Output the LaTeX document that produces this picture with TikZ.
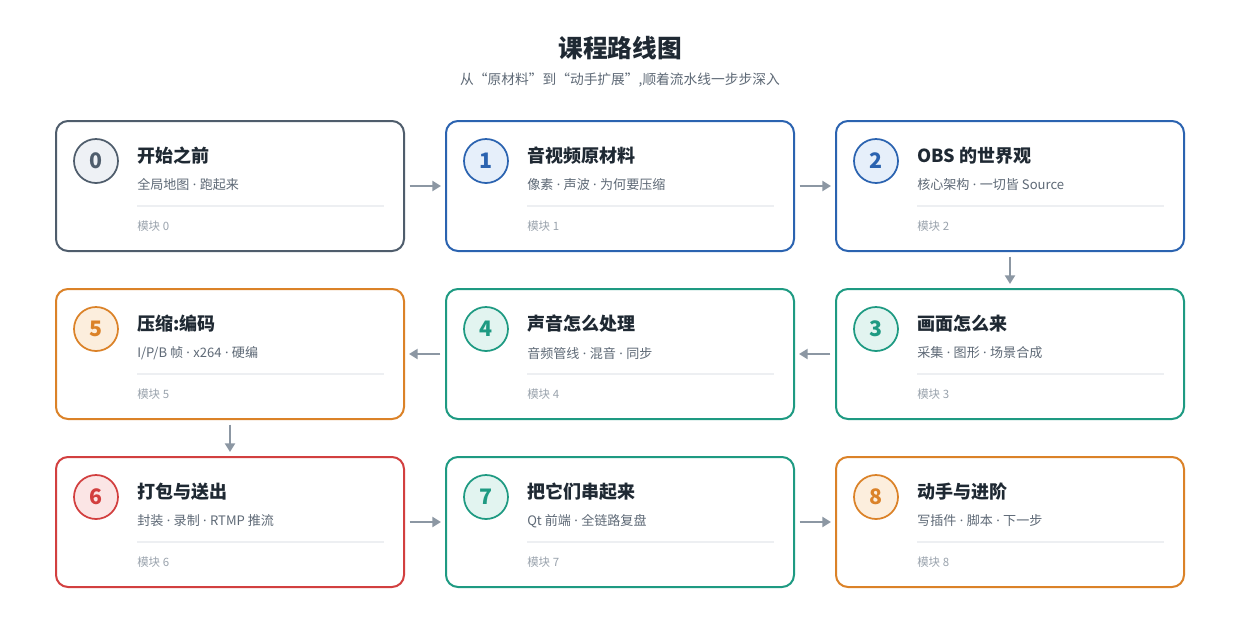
\documentclass[tikz,border=0pt]{standalone}
\usepackage{fontspec}
\setmainfont{Noto Sans CJK SC}
\newfontfamily\latinfont{Noto Sans}
\usetikzlibrary{arrows.meta,positioning,calc}
\definecolor{Ink}{HTML}{1F2933}
\definecolor{SubInk}{HTML}{5E6976}
\definecolor{Faint}{HTML}{9AA3AD}
\definecolor{Rule}{HTML}{EDEFF2}
\definecolor{Flow}{HTML}{8C97A3}
\definecolor{Slate}{HTML}{4F5D6C}
\definecolor{SlateBg}{HTML}{EEF1F5}
\definecolor{Blue}{HTML}{2B63B0}
\definecolor{BlueBg}{HTML}{E6EFFA}
\definecolor{Teal}{HTML}{1E9A82}
\definecolor{TealBg}{HTML}{E2F4F0}
\definecolor{Amber}{HTML}{DB8228}
\definecolor{AmberBg}{HTML}{FCEEDD}
\definecolor{Crimson}{HTML}{D23F3F}
\definecolor{CrimsonBg}{HTML}{FBE5E5}
\newcommand{\Mid}{{\latinfont\ ·\ }}
\tikzset{
  card/.style={draw=#1,line width=1.5pt,rounded corners=9pt,fill=white,
    minimum width=261pt,minimum height=97.5pt,inner sep=0pt},
  badge/.style={circle,draw=#1,line width=1.3pt,minimum size=33pt,inner sep=0pt,
    text=#1,font=\fontsize{16}{16}\selectfont\bfseries},
  ctitle/.style={anchor=west,inner sep=0pt,text=Ink,font=\fontsize{13.5}{14}\selectfont\bfseries},
  csub/.style={anchor=west,inner sep=0pt,text=SubInk,font=\fontsize{9.8}{11}\selectfont},
  cmod/.style={anchor=west,inner sep=0pt,text=Faint,font=\fontsize{8.6}{9}\selectfont},
  flow/.style={draw=Flow,line width=2pt,-{Triangle[length=6.5pt,width=7.5pt]},
    shorten <=3.5pt,shorten >=3pt},
}
\newcommand{\Card}[8]{%
  \node[card=#4] (m#1) at (#2,#3) {};%
  \node[badge=#4,fill=#5] (b#1) at (#2-134,#3-25) {#1};%
  \node[ctitle] (t#1) at (#2-93,#3-30) {#6};%
  \node[csub] (s#1) at (#2-93,#3-1) {#7};%
  \draw[Rule,line width=0.8pt] (#2-93,#3+20) -- (#2+154,#3+20);%
  \node[cmod] (k#1) at (#2-93,#3+40) {#8};%
}

\begin{document}
\begin{tikzpicture}[x=0.75pt,y=-0.75pt]
\fill[white] (0,0) rectangle (1240,640);
\useasboundingbox (0,0) rectangle (1240,640);
\node[font=\fontsize{18.5}{20}\selectfont\bfseries,text=Ink] (title) at (620,48) {课程路线图};
\node[font=\fontsize{10.3}{12}\selectfont,text=SubInk] (subtitle) at (620,80) {从“原材料”到“动手扩展”,顺着流水线一步步深入};
% row one
\Card{0}{230}{186}{Slate}{SlateBg}{开始之前}{全局地图\Mid 跑起来}{模块 0}
\Card{1}{620}{186}{Blue}{BlueBg}{音视频原材料}{像素\Mid 声波\Mid 为何要压缩}{模块 1}
\Card{2}{1010}{186}{Blue}{BlueBg}{OBS 的世界观}{核心架构\Mid 一切皆 Source}{模块 2}
% row two
\Card{5}{230}{354}{Amber}{AmberBg}{压缩:编码}{I/P/B 帧\Mid x264\Mid 硬编}{模块 5}
\Card{4}{620}{354}{Teal}{TealBg}{声音怎么处理}{音频管线\Mid 混音\Mid 同步}{模块 4}
\Card{3}{1010}{354}{Teal}{TealBg}{画面怎么来}{采集\Mid 图形\Mid 场景合成}{模块 3}
% row three
\Card{6}{230}{522}{Crimson}{CrimsonBg}{打包与送出}{封装\Mid 录制\Mid RTMP 推流}{模块 6}
\Card{7}{620}{522}{Teal}{TealBg}{把它们串起来}{Qt 前端\Mid 全链路复盘}{模块 7}
\Card{8}{1010}{522}{Amber}{AmberBg}{动手与进阶}{写插件\Mid 脚本\Mid 下一步}{模块 8}
% connectors
\draw[flow] (m0) -- (m1);
\draw[flow] (m1) -- (m2);
\draw[flow] (m2) -- (m3);
\draw[flow] (m3) -- (m4);
\draw[flow] (m4) -- (m5);
\draw[flow] (m5) -- (m6);
\draw[flow] (m6) -- (m7);
\draw[flow] (m7) -- (m8);
\end{tikzpicture}
\end{document}
